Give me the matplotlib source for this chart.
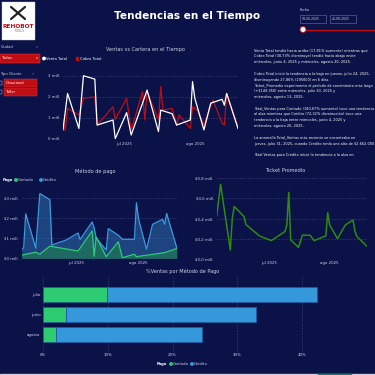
import matplotlib
matplotlib.use("Agg")
import matplotlib.pyplot as plt
from matplotlib.patches import Rectangle, Circle
import pandas as pd

plt.rcParams['font.family'] = ['DejaVu Sans']

BG = '#0b1248'
RED = '#c00d14'
WHITE = '#ffffff'
TXT = '#d0d3e6'
GRID = '#3a4480'
BLUE = '#3b9ade'
GREEN = '#2ecc71'
TICKET = '#2e8b0c'

# ---- data ----
venta_fechas = ['06-04', '06-06', '06-11', '06-13', '06-18', '06-19', '06-26', '06-27', '07-02',
                '07-04', '07-09', '07-11', '07-16', '07-17', '07-22', '07-24', '07-30', '07-31',
                '08-01', '08-05', '08-08', '08-13', '08-14', '08-15', '08-20']
venta_total = [0.43, 2.16, 0.5, 3.0, 2.84, 0.66, 0.9, 0.02, 1.25, 0.19, 1.7, 2.32, 0.35, 1.37,
               1.2, 0.66, 0.9, 2.72, 1.93, 0.43, 1.7, 1.88, 1.6, 2.16, 0.5]

cobro_fechas = ['06-04', '06-05', '06-06', '06-11', '06-13', '06-18', '06-19', '06-26', '06-27',
                '07-02', '07-04', '07-09', '07-10', '07-11', '07-16', '07-17', '07-18', '07-22',
                '07-24', '07-25', '07-30', '07-31', '08-02', '08-05', '08-09', '08-13', '08-14',
                '08-15', '08-20']
cobro_total = [0.9, 0.4, 1.45, 1.14, 1.93, 2.0, 0.66, 1.53, 0.93, 1.93, 0.43, 2.24, 0.9, 2.24,
               0.9, 2.48, 1.37, 1.45, 0.66, 1.14, 0.5, 1.53, 1.37, 0.66, 1.85, 0.74, 0.66, 2.16, 0.58]

credito_fechas = ['06-04', '06-05', '06-06', '06-11', '06-13', '06-18', '06-19', '06-26', '07-02',
                  '07-03', '07-09', '07-10', '07-11', '07-16', '07-17', '07-22', '07-24', '07-30',
                  '07-31', '08-01', '08-05', '08-08', '08-13', '08-14', '08-15', '08-20']
credito = [0.41, 0.54, 2.2, 0.5, 3.2, 2.9, 0.66, 0.9, 1.25, 0.93, 1.8, 1.5, 1.0, 0.41, 1.47,
           1.14, 0.94, 0.94, 2.75, 1.96, 0.45, 1.68, 1.93, 1.68, 2.22, 0.53]

contado_fechas = ['06-04', '06-11', '06-13', '06-18', '07-02', '07-09', '07-10', '07-11', '07-16',
                  '07-22', '07-24', '07-30', '07-31', '08-14', '08-20']
contado = [0.16, 0.3, 0.2, 0.6, 0.36, 1.35, 0.1, 1.05, 0.08, 0.82, 0.03, 0.2, 0.08, 0.28, 0.48]

ticket_fechas = ['06-04', '06-06', '06-11', '06-12', '06-13', '06-18', '06-19', '06-26', '07-02',
                 '07-09', '07-10', '07-11', '07-12', '07-16', '07-18', '07-22', '07-24', '07-30',
                 '07-31', '08-01', '08-05', '08-09', '08-13', '08-14', '08-15', '08-20']
ticket = [0.425, 0.74, 0.086, 0.40, 0.52, 0.42, 0.34, 0.226, 0.18, 0.27, 0.335, 0.66, 0.186,
          0.113, 0.235, 0.232, 0.18, 0.226, 0.458, 0.335, 0.2, 0.335, 0.385, 0.27, 0.22, 0.126]

meses = ['agosto', 'junio', 'julio']
pct_contado = [1.9, 3.5, 9.9]
pct_credito = [22.7, 29.4, 32.4]

insights = [
    "Venta Total tendió hacia arriba (17,81% aumento) mientras que",
    "Cobro Total (30,73% disminuye) tendió hacia abajo entre",
    "miércoles, junio 4, 2025 y miércoles, agosto 20, 2025.",
    "",
    "Cobro Total inició la tendencia a la baja en jueves, julio 24, 2025,",
    "disminuyendo 27,86% (195000) en 6 días.",
    "Ticket_Promedio experimentó el período de crecimiento más largo",
    "(+$149.350) entre miércoles, julio 30, 2025 y",
    "miércoles, agosto 13, 2025.",
    "",
    "Total_Ventas para Contado (180,67% aumento) tuvo una tendencia",
    "al alza mientras que Crédito (72,32% disminución) tuvo una",
    "tendencia a la baja entre miércoles, junio 4, 2025 y",
    "miércoles, agosto 20, 2025.",
    "",
    "La anomalía Total_Ventas más reciente se encontraba en",
    "jueves, julio 31, 2025, cuando Crédito tenía una alta de $2.662.000",
    "",
    "Total Ventas para Crédito inició la tendencia a la alza en",
]


def fechas(lst):
    return pd.to_datetime(['2025-' + s for s in lst])


W = H = 375
fig = plt.figure(figsize=(3.75, 3.75), dpi=100, facecolor=BG)


def px_axes(x0, y0, x1, y1):
    return fig.add_axes([x0 / W, 1 - y1 / H, (x1 - x0) / W, (y1 - y0) / H])


def style_axes(ax):
    ax.set_facecolor('none')
    for s in ax.spines.values():
        s.set_visible(False)
    ax.tick_params(colors=TXT, labelsize=2.8, length=0, pad=2)
    ax.grid(axis='y', color=GRID, linestyle=(0, (2, 2)), linewidth=0.5)
    ax.set_axisbelow(True)


def date_axis(ax):
    ax.set_xlim(pd.Timestamp('2025-06-04'), pd.Timestamp('2025-08-20'))
    ax.set_xticks([pd.Timestamp('2025-07-01'), pd.Timestamp('2025-08-01')])
    ax.set_xticklabels(['jul 2025', 'ago 2025'])


# overlay in pixel coordinates for decorations
ov = fig.add_axes([0, 0, 1, 1])
ov.set_xlim(0, W)
ov.set_ylim(H, 0)
ov.axis('off')
ov.set_zorder(-1)

# logo
ov.add_patch(Rectangle((2, 2), 33, 38, facecolor='white', edgecolor='#cccccc', lw=0.3))
ov.plot([11, 25], [7, 19], color='#222222', lw=1.6, solid_capstyle='round')
ov.plot([25, 11], [7, 19], color='#222222', lw=1.6, solid_capstyle='round')
ov.text(18.5, 26, 'REHOBOT', color=RED, fontsize=4.2, fontweight='bold', ha='center', va='center')
ov.text(18.5, 31.5, 'TOOLS', color='#777777', fontsize=2.2, ha='center', va='center')

# title
ov.text(187, 16, 'Tendencias en el Tiempo', color='white', fontsize=7.6, fontweight='bold',
        ha='center', va='center')

# date slicer
ov.text(300, 10, 'Fecha', color=TXT, fontsize=2.4, va='center')
for x0, lab in [(300, '04-06-2025'), (330, '20-08-2025')]:
    ov.add_patch(Rectangle((x0, 15), 26, 7.5, facecolor='none', edgecolor='#6a73a8', lw=0.4))
    ov.text(x0 + 2, 18.8, lab, color=TXT, fontsize=2.2, va='center')
ov.plot([303, 376], [29.5, 29.5], color=RED, lw=0.9)
ov.add_patch(Circle((303, 29.5), 3, facecolor='white', edgecolor=RED, lw=0.6, zorder=5))

# filters
ov.text(1, 47, 'Ciudad', color=TXT, fontsize=2.6, va='center')
ov.text(36, 47, 'v', color='#6a73a8', fontsize=2.6, va='center')
ov.add_patch(Rectangle((0, 54), 40, 8.5, facecolor=RED, edgecolor='#e04048', lw=0.3))
ov.text(2, 58.3, 'Todos', color='white', fontsize=2.7, va='center')
ov.text(36, 58, 'v', color='white', fontsize=2.6, va='center')
ov.text(0.5, 74, 'Tipo Cliente', color=TXT, fontsize=2.6, va='center')
ov.text(32, 74, 'v', color='#6a73a8', fontsize=2.6, va='center')
for yy, lab in [(79, 'Ocasional'), (88, 'Taller')]:
    ov.add_patch(Rectangle((-2, yy + 1.5), 4, 4, facecolor='none', edgecolor=TXT, lw=0.3))
    ov.add_patch(Rectangle((4, yy), 33, 7.5, facecolor=RED, edgecolor='#e04048', lw=0.3))
    ov.text(6, yy + 3.8, lab, color='white', fontsize=2.7, va='center')

# insights text
for i, line in enumerate(insights):
    ov.text(254, 50.7 + i * 5.8, line, color='white', fontsize=2.55, va='center')

# chart titles and legends
ov.text(145, 50, 'Ventas vs Cartera en el Tiempo', color=TXT, fontsize=3.6, ha='center', va='center')
ov.add_patch(Circle((44, 58.5), 1.2, color='white'))
ov.text(46, 58.5, 'Venta Total', color='white', fontsize=2.7, va='center')
ov.add_patch(Rectangle((76, 57.3), 2.4, 2.4, color=RED))
ov.text(79.5, 58.5, 'Cobro Total', color='white', fontsize=2.7, va='center')

ov.text(95, 171, 'Método de pago', color=TXT, fontsize=3.6, ha='center', va='center')
ov.text(3, 180, 'Pago', color='white', fontsize=2.7, fontweight='bold', va='center')
ov.add_patch(Circle((16, 180), 1.2, color=GREEN))
ov.text(18, 180, 'Contado', color=TXT, fontsize=2.7, va='center')
ov.add_patch(Circle((41, 180), 1.2, color=BLUE))
ov.text(43, 180, 'Crédito', color=TXT, fontsize=2.7, va='center')

ov.text(285, 171, 'Ticket Promedio', color=TXT, fontsize=3.6, ha='center', va='center')

ov.text(183, 271, '%Ventas por Método de Pago', color=TXT, fontsize=3.6, ha='center', va='center')
ov.text(157, 364, 'Pago', color='white', fontsize=2.7, fontweight='bold', va='center')
ov.add_patch(Circle((171, 364), 1.2, color=GREEN))
ov.text(173, 364, 'Contado', color=TXT, fontsize=2.7, va='center')
ov.add_patch(Circle((192, 364), 1.2, color=BLUE))
ov.text(194, 364, 'Crédito', color=TXT, fontsize=2.7, va='center')

# bottom strip
ov.add_patch(Rectangle((0, 373.5), 375, 2, color='#c9ccd8'))
ov.add_patch(Rectangle((318, 373.5), 33, 2, color='#1f6f6a'))

# ---- Ventas vs Cartera ----
ax1 = px_axes(63, 69.4, 238, 139)
style_axes(ax1)
ax1.plot(fechas(cobro_fechas), cobro_total, color=RED, lw=0.9)
ax1.plot(fechas(venta_fechas), venta_total, color=WHITE, lw=0.9)
ax1.set_ylim(0, 3.3)
ax1.set_yticks([0, 1, 2, 3])
ax1.set_yticklabels(['0 mill.', '1 mill.', '2 mill.', '3 mill.'])
date_axis(ax1)

# ---- Método de pago ----
ax2 = px_axes(21.7, 191.6, 176.7, 258.3)
style_axes(ax2)
fc = fechas(credito_fechas)
fo = fechas(contado_fechas)
ax2.fill_between(fc, credito, color='#2f6fb0', alpha=0.55, lw=0)
ax2.plot(fc, credito, color=BLUE, lw=0.9)
ax2.fill_between(fo, contado, color='#1f7a55', alpha=0.7, lw=0)
ax2.plot(fo, contado, color=GREEN, lw=0.9)
ax2.set_ylim(0, 3.3)
ax2.set_yticks([0, 1, 2, 3])
ax2.set_yticklabels(['$0 mill.', '$1 mill.', '$2 mill.', '$3 mill.'])
date_axis(ax2)

# ---- Ticket Promedio ----
ax3 = px_axes(216.7, 173.3, 366.7, 258.7)
style_axes(ax3)
ax3.plot(fechas(ticket_fechas), ticket, color=TICKET, lw=1.1)
ax3.set_ylim(0, 0.85)
ax3.set_yticks([0, 0.2, 0.4, 0.6, 0.8])
ax3.set_yticklabels(['$0,0 mill.', '$0,2 mill.', '$0,4 mill.', '$0,6 mill.', '$0,8 mill.'])
date_axis(ax3)

# ---- %Ventas por Método de Pago ----
ax4 = px_axes(43.3, 277.1, 334, 350.6)
style_axes(ax4)
ax4.grid(False)
ax4.grid(axis='x', color=GRID, linestyle=(0, (2, 2)), linewidth=0.5)
yp = range(len(meses))
ax4.barh(yp, pct_contado, height=0.75, color=GREEN, edgecolor='#1e5aa0', lw=0.4)
ax4.barh(yp, pct_credito, left=pct_contado, height=0.75, color='#3498db', edgecolor='#1e5aa0', lw=0.6)
ax4.set_yticks(list(yp))
ax4.set_yticklabels(meses)
ax4.set_ylim(-0.8, 2.85)
ax4.set_xlim(0, 45)
ax4.set_xticks([0, 10, 20, 30, 40])
ax4.set_xticklabels(['0%', '10%', '20%', '30%', '40%'])

fig.savefig('out.png', dpi=100, facecolor=BG)
